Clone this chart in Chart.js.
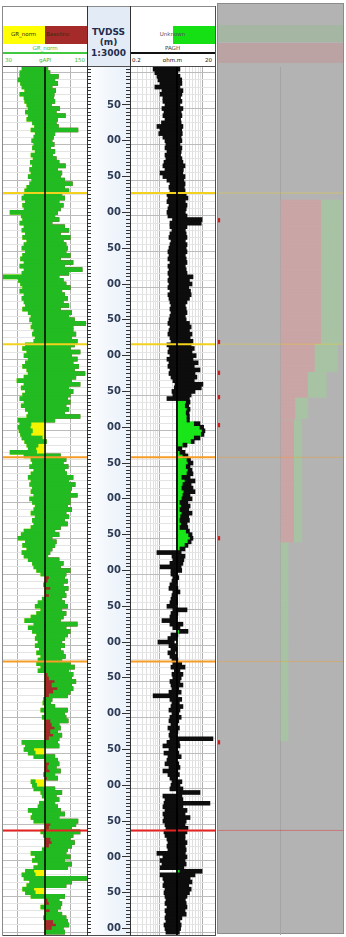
<!DOCTYPE html>
<html>
<head>
<meta charset="utf-8">
<script src="https://cdn.jsdelivr.net/npm/chart.js@4.4.0/dist/chart.umd.min.js"></script>
<style>
  html, body { margin: 0; padding: 0; background: #ffffff; }
  #page { position: relative; width: 346px; height: 937px; overflow: hidden; font-family: "DejaVu Sans", Verdana, sans-serif; }
  .abs { position: absolute; }
  .sm { position: absolute; font-size: 5.5px; line-height: 7px; white-space: nowrap; }
  .hd { position: absolute; font-weight: bold; font-size: 9px; line-height: 10px; color: #1f2d4c; text-align: center; width: 43px; left: 87px; }
  .ln { position: absolute; background: #4d4d4d; z-index: 5; }
  canvas { display: block; }
</style>
</head>
<body>
<div id="page">
  <!-- grey results panel -->
  <div class="abs" style="left:217px;top:3px;width:127px;height:931px;background:#b3b3b3;box-sizing:border-box;border:1px solid #8c8c8c;"></div>
  <div class="abs" style="left:218px;top:25px;width:125px;height:17px;background:rgba(120,200,110,0.22);"></div>
  <div class="abs" style="left:218px;top:43px;width:125px;height:20px;background:rgba(225,110,110,0.22);"></div>
  <div class="abs" style="left:218px;top:67px;width:125px;height:868px;"><canvas id="panelChart" width="125" height="868"></canvas></div>

  <!-- GR track header -->
  <div class="abs" style="left:3px;top:26px;width:42px;height:18px;background:#ffff00;"></div>
  <div class="abs" style="left:45px;top:26px;width:42px;height:18px;background:#a52a2a;"></div>
  <div class="sm" style="left:11px;top:31px;color:#3a2c0c;">GR_norm</div>
  <div class="sm" style="left:46px;top:31px;color:#3a2c0c;">Baseline</div>
  <div class="sm" style="left:3px;top:45px;width:84px;text-align:center;color:#3cc43c;">GR_norm</div>
  <div class="abs" style="left:3px;top:52px;width:84px;height:2px;background:#40c840;"></div>
  <div class="sm" style="left:5px;top:57px;color:#3cb83c;">30</div>
  <div class="sm" style="left:3px;top:57px;width:84px;text-align:center;color:#3cb83c;">gAPI</div>
  <div class="sm" style="left:3px;top:57px;width:82px;text-align:right;color:#3cb83c;">150</div>

  <!-- depth track header -->
  <div class="abs" style="left:87px;top:6px;width:43px;height:60px;background:#e3ebf6;"></div>
  <div class="abs" style="left:87px;top:67px;width:43px;height:868px;background:linear-gradient(to right,#ffffff 0%,#f3f7fc 45%,#eaf1fa 100%);"></div>
  <div class="hd" style="top:27px;">TVDSS</div>
  <div class="hd" style="top:37px;">(m)</div>
  <div class="hd" style="top:48px;">1:3000</div>

  <!-- resistivity track header -->
  <div class="abs" style="left:173px;top:26px;width:42px;height:18px;background:#14e014;"></div>
  <div class="sm" style="left:130px;top:31px;width:85px;text-align:center;color:#50505a;">Unknown</div>
  <div class="sm" style="left:130px;top:45px;width:85px;text-align:center;color:#40404a;">PAGH</div>
  <div class="abs" style="left:130px;top:52px;width:85px;height:2px;background:#111111;"></div>
  <div class="sm" style="left:132px;top:57px;color:#111;">0.2</div>
  <div class="sm" style="left:130px;top:57px;width:85px;text-align:center;color:#111;">ohm.m</div>
  <div class="sm" style="left:130px;top:57px;width:82px;text-align:right;color:#111;">20</div>

  <!-- track canvases -->
  <div class="abs" style="left:3px;top:67px;width:84px;height:868px;"><canvas id="grChart" width="84" height="868"></canvas></div>
  <div class="abs" style="left:87px;top:67px;width:43px;height:868px;"><canvas id="depthChart" width="43" height="868"></canvas></div>
  <div class="abs" style="left:130px;top:67px;width:85px;height:868px;"><canvas id="resChart" width="85" height="868"></canvas></div>

  <!-- track frame -->
  <div class="ln" style="left:3px;top:6px;width:213px;height:1px;background:#8a8a8a;"></div>
  <div class="ln" style="left:3px;top:66px;width:213px;height:1px;"></div>
  <div class="ln" style="left:3px;top:935px;width:213px;height:1px;"></div>
  <div class="ln" style="left:2px;top:6px;width:1px;height:930px;background:#8a8a8a;"></div>
  <div class="ln" style="left:87px;top:6px;width:1px;height:930px;background:#333;"></div>
  <div class="ln" style="left:130px;top:6px;width:1px;height:930px;background:#333;"></div>
  <div class="ln" style="left:215px;top:6px;width:1px;height:930px;"></div>
</div>

<script>
// Depth window of the display (m TVDSS) and sampling of the log curves
const DEPTH_TOP = 997;
const DEPTH_BASE = 2209;
const SAMPLE_TOP = 1000;
const SAMPLE_STEP = 5;
const FIRST_LABEL = 1050;

// GR_norm (gAPI): lowest and highest reading inside each 5 m sample
const grLow = [
  57,54,54,51,55,57,61,54,60,61,
  64,66,62,66,64,72,75,70,76,74,
  71,74,72,76,70,73,69,72,68,70,
  66,71,68,64,61,60,57,62,58,60,
  40,56,58,54,60,57,62,58,64,60,
  57,62,58,55,60,54,60,57,30,52,
  55,58,54,60,57,60,62,58,66,70,
  68,72,70,74,72,76,74,62,58,64,
  60,66,62,58,64,66,60,50,60,56,
  62,58,54,60,56,62,66,64,51,54,
  51,53,55,57,61,64,66,40,60,70,
  72,68,74,70,66,70,68,72,70,74,
  68,72,76,74,70,76,72,74,70,60,
  56,51,62,58,64,57,60,66,72,74,
  78,84,96,94,88,98,92,96,86,80,
  76,84,78,70,61,74,66,72,78,76,
  80,76,82,78,84,80,78,84,80,94,
  96,104,100,108,102,96,88,87,90,84,
  92,86,98,100,104,98,102,96,57,62,
  60,66,74,92,96,94,97,88,93,70,
  72,74,84,86,90,82,80,66,72,70,
  74,98,96,84,88,98,100,96,86,70,
  76,72,80,74,62,57,60,68,64,58,
  62,70,94,96,84,97,92,88,102,106,
  100,90
];
const grHigh = [
  94,97,109,104,108,100,105,103,102,104,
  99,111,106,119,108,106,109,137,104,102,
  100,103,98,104,101,106,110,119,108,114,
  112,118,129,118,124,114,118,110,116,112,
  108,104,110,100,118,124,112,126,116,120,
  122,120,126,112,130,118,143,124,110,116,
  120,126,114,118,122,116,124,112,128,124,
  132,148,130,130,134,128,136,132,126,140,
  128,136,130,138,132,147,134,128,140,124,
  130,126,122,126,120,124,118,140,104,70,
  69,72,70,86,92,80,77,78,112,120,
  116,123,118,121,130,124,133,128,126,136,
  126,126,122,128,120,124,118,122,112,104,
  110,100,106,104,100,97,94,110,116,112,
  126,120,118,122,116,123,118,120,114,118,
  122,114,120,116,112,136,120,126,122,118,
  114,118,112,116,119,114,126,132,124,130,
  128,134,128,130,126,122,100,98,104,122,
  118,120,123,110,112,108,114,110,108,110,
  74,76,104,108,110,106,112,104,108,76,
  78,104,114,106,110,104,108,112,118,110,
  137,134,128,140,130,126,132,128,122,120,
  126,118,128,122,74,76,150,128,120,74,
  76,118,110,114,112,108,114,120,122,124,
  116,118
];
const grBaseline = 90;
const grGridValues = [51, 126];

// Resistivity (ohm.m): lowest and highest reading inside each 5 m sample
const resLow = [
  0.70,0.77,0.86,0.91,1.02,0.77,1.13,1.02,1.19,1.19,
  1.33,1.13,1.26,1.19,1.33,1.10,0.86,1.02,0.95,1.19,
  1.33,1.40,1.33,1.48,1.33,1.40,1.26,1.19,1.33,1.02,
  1.19,1.48,1.74,1.65,1.74,1.48,1.56,1.48,1.65,1.56,
  1.48,1.56,2.00,1.74,1.74,1.94,1.74,1.65,1.84,1.74,
  1.65,1.56,1.65,1.56,1.74,1.56,1.65,1.56,1.65,1.56,
  1.65,1.56,1.74,1.56,1.65,1.74,1.84,1.74,1.84,1.74,
  1.65,1.56,1.74,1.65,1.56,1.74,1.84,1.48,1.65,1.56,
  1.74,1.48,1.65,1.56,1.74,1.65,1.84,2.04,2.29,2.20,
  1.94,2.04,1.48,4.20,4.00,4.39,4.20,4.39,4.39,6.50,
  8.87,10.0,9.50,6.50,5.50,3.52,2.68,2.99,3.52,4.39,
  4.63,4.20,4.63,4.39,3.33,3.94,3.52,3.33,3.70,3.52,
  3.33,2.99,3.20,3.00,3.33,3.10,2.99,3.20,3.00,4.20,
  4.80,5.20,4.63,3.94,3.00,0.86,1.94,2.04,1.74,1.02,
  1.84,1.84,2.04,1.94,1.74,1.65,2.04,1.94,1.84,1.74,
  1.48,2.04,1.84,1.74,1.13,1.74,2.04,2.90,1.84,1.56,
  0.91,1.65,1.84,1.56,1.74,1.94,2.04,1.84,2.20,1.94,
  2.04,1.74,1.84,1.94,1.65,0.70,1.74,1.94,1.84,1.65,
  1.94,1.74,1.65,1.84,1.56,1.74,1.65,1.74,1.48,1.19,
  1.65,1.26,1.56,1.48,1.33,1.65,1.19,1.56,1.74,1.94,
  1.84,1.74,2.60,1.19,1.33,1.26,1.19,1.33,1.19,1.26,
  1.19,1.33,1.40,1.26,1.33,1.48,1.56,1.48,1.56,0.86,
  1.19,1.02,1.13,1.02,3.00,1.02,1.19,1.26,1.19,1.33,
  1.26,1.33,1.40,1.33,1.48,1.33,1.40,1.33,1.40,1.26,
  1.33,1.40
];
const resHigh = [
  2.99,2.68,3.00,3.30,3.33,3.00,3.52,3.33,3.10,3.33,
  3.00,3.52,3.20,3.33,3.10,3.20,3.52,3.30,3.40,3.20,
  3.33,3.00,3.33,3.20,3.10,3.33,3.52,3.94,3.60,3.50,
  3.94,3.70,3.94,3.80,3.94,4.20,4.63,4.00,4.40,4.20,
  4.00,4.40,9.90,9.50,4.39,4.00,4.20,4.39,4.00,4.40,
  4.20,4.39,4.00,4.20,4.39,4.00,4.20,4.39,6.07,5.00,
  5.76,4.80,5.30,5.50,5.00,4.39,4.00,4.20,4.39,4.00,
  4.20,5.00,5.50,5.00,5.76,5.20,6.07,5.50,6.50,5.76,
  7.20,6.07,8.00,6.50,8.87,6.77,7.50,6.50,10.4,9.50,
  6.77,5.50,5.00,5.17,4.80,5.17,4.90,5.00,5.00,8.87,
  10.8,11.6,11.0,8.87,6.50,4.39,3.33,3.94,4.63,5.30,
  6.07,5.17,5.76,6.07,5.20,6.77,5.50,6.07,6.77,5.17,
  5.76,4.60,5.20,4.80,5.76,4.80,5.00,4.40,4.60,5.00,
  5.76,6.07,5.50,4.63,3.94,3.20,3.94,3.70,3.52,3.20,
  3.30,2.60,2.80,2.50,2.40,2.68,3.00,2.55,2.60,2.60,
  2.40,4.39,2.68,2.60,2.55,3.52,3.00,4.63,2.68,2.55,
  2.20,2.40,2.55,2.29,2.55,2.68,3.30,3.94,3.00,3.52,
  3.20,3.00,3.52,2.80,3.20,2.68,3.30,2.90,3.52,3.00,
  2.80,3.20,2.80,2.60,2.90,2.68,2.55,17.9,2.90,3.00,
  2.60,2.80,3.20,2.55,2.80,3.00,2.68,2.90,2.60,3.33,
  3.00,3.52,8.87,3.33,3.52,15.2,3.52,4.39,3.94,5.17,
  4.20,3.94,4.63,4.39,3.94,3.94,4.39,4.00,4.20,4.00,
  4.39,3.94,4.20,3.70,9.90,6.77,5.20,5.76,4.80,5.50,
  5.00,4.39,4.00,4.20,4.39,3.94,4.20,3.33,3.00,3.20,
  3.10,2.90
];
const resCutoff = 2.55;
const resGridValues = [0.3,0.4,0.5,0.6,0.7,0.8,0.9,1,2,3,4,5,6,7,8,9,10];

// Formation tops (m TVDSS) and their colours
const topDepths = [1173, 1384, 1542, 1827, 2063];
const topColors = ['#f2d21c', '#f2d21c', '#f59d26', '#f59d26', '#e62222'];

// Summary panel: zones with stacked red / green widths
const zoneTop   = [1183, 1382, 1423, 1458, 1490, 1658];
const zoneBase  = [1382, 1423, 1458, 1490, 1658, 1940];
const zoneRed   = [0.64, 0.54, 0.43, 0.23, 0.21, 0.00];
const zoneGreen = [0.34, 0.37, 0.30, 0.20, 0.13, 0.12];
const markerDepths = [1211, 1381, 1424, 1458, 1497, 1655, 1940];

// ---------------------------------------------------------------------------
const sampleDepths = grLow.map((_, i) => SAMPLE_TOP + i * SAMPLE_STEP);

const baseOptions = {
  indexAxis: 'y',
  responsive: false,
  devicePixelRatio: 1,
  animation: false,
  events: [],
  layout: { padding: 0, autoPadding: false },
  plugins: { legend: { display: false }, tooltip: { enabled: false } }
};

// no label padding is allowed to push the plot area away from the canvas edges
function noPad(s) { s.paddingTop = 0; s.paddingBottom = 0; s.paddingLeft = 0; s.paddingRight = 0; }

function depthAxis(showGrid) {
  return {
    type: 'linear', min: DEPTH_TOP, max: DEPTH_BASE, reverse: true, offset: false,
    ticks: { display: false, stepSize: 10, includeBounds: false },
    border: { display: false },
    grid: {
      display: showGrid !== false,
      drawTicks: false,
      color: c => (c.tick && c.tick.value % 50 === 0) ? '#bcbcbc' : '#e4e4e4',
      lineWidth: 1
    },
    afterBuildTicks: s => { s.ticks = s.ticks.filter(t => t.value % 10 === 0); },
    afterFit: noPad
  };
}

function topLines(xMin, xMax, alpha) {
  return topDepths.map((d, i) => ({
    type: 'line',
    data: [{ x: xMin, y: d }, { x: xMax, y: d }],
    borderColor: alpha ? topColors[i] + alpha : topColors[i],
    borderWidth: alpha ? 1 : 2,
    pointRadius: 0,
    order: 0
  }));
}

// GR track
new Chart(document.getElementById('grChart'), {
  type: 'bar',
  data: {
    datasets: [
      { type: 'line', data: [{ x: grBaseline, y: DEPTH_TOP }, { x: grBaseline, y: DEPTH_BASE }],
        borderColor: '#000000', borderWidth: 1.5, pointRadius: 0, order: 0 },
      ...topLines(30, 150),
      { label: 'GR_norm', data: sampleDepths.map((d, i) => ({ y: d, x: [grLow[i], grHigh[i]] })),
        backgroundColor: '#22bb22', barThickness: 4, grouped: false, order: 2 },
      { label: 'GR_norm < Baseline',
        data: sampleDepths.map((d, i) => ({ y: d, x: [Math.min(grLow[i], grBaseline), grBaseline] })),
        backgroundColor: '#f4f400', barThickness: 4, grouped: false, order: 3 },
      { label: 'GR_norm > Baseline',
        data: sampleDepths.map((d, i) => ({ y: d, x: [grBaseline, Math.max(grHigh[i], grBaseline)] })),
        backgroundColor: '#a52a2a', barThickness: 4, grouped: false, order: 3 }
    ]
  },
  options: {
    ...baseOptions,
    scales: {
      x: {
        type: 'linear', min: 30, max: 150,
        ticks: { display: false }, border: { display: false },
        grid: { drawTicks: false, color: '#b4b4b4' },
        afterBuildTicks: s => { s.ticks = grGridValues.map(v => ({ value: v })); },
        afterFit: noPad
      },
      y: depthAxis()
    }
  }
});

// Resistivity track
new Chart(document.getElementById('resChart'), {
  type: 'bar',
  data: {
    datasets: [
      { type: 'line', data: [{ x: resCutoff, y: DEPTH_TOP }, { x: resCutoff, y: DEPTH_BASE }],
        borderColor: '#000000', borderWidth: 1, pointRadius: 0, order: 0 },
      ...topLines(0.2, 20),
      { label: 'Resistivity', data: sampleDepths.map((d, i) => ({ y: d, x: [resLow[i], resHigh[i]] })),
        backgroundColor: '#0d0d0d', barThickness: 4, grouped: false, order: 2 },
      { label: 'Unknown',
        data: sampleDepths.map((d, i) => ({ y: d, x: [resCutoff, Math.max(resLow[i], resCutoff)] })),
        backgroundColor: '#19e619', barThickness: 4, grouped: false, order: 3 }
    ]
  },
  options: {
    ...baseOptions,
    scales: {
      x: {
        type: 'logarithmic', min: 0.2, max: 20,
        ticks: { display: false }, border: { display: false },
        grid: { drawTicks: false, color: c => (c.tick && (c.tick.value === 1 || c.tick.value === 10)) ? '#b0b0b0' : '#e0e0e0' },
        afterBuildTicks: s => { s.ticks = resGridValues.map(v => ({ value: v })); },
        afterFit: noPad
      },
      y: depthAxis()
    }
  }
});

// Depth ruler
new Chart(document.getElementById('depthChart'), {
  type: 'scatter',
  data: { datasets: [] },
  options: {
    ...baseOptions,
    indexAxis: 'x',
    scales: {
      x: { type: 'linear', display: false, min: 0, max: 1 },
      yRuler: {
        axis: 'y', position: 'left', weight: 2,
        type: 'linear', min: DEPTH_TOP, max: DEPTH_BASE, reverse: true,
        ticks: { display: false, stepSize: 5, includeBounds: false },
        border: { display: false },
        grid: { drawOnChartArea: false, drawTicks: true, tickLength: 4, color: '#333333' },
        afterBuildTicks: s => { s.ticks = s.ticks.filter(t => t.value % 5 === 0); },
        afterFit: noPad
      },
      yLabels: {
        axis: 'y', position: 'left', weight: 1,
        type: 'linear', min: DEPTH_TOP, max: DEPTH_BASE, reverse: true,
        ticks: {
          stepSize: 50, padding: 1, color: '#2c3a56', includeBounds: false, autoSkip: false,
          font: { family: 'DejaVu Sans', size: 10, weight: 'bold' },
          callback: v => String(Math.round(v) % 100).padStart(2, '0')
        },
        border: { display: false },
        grid: { drawOnChartArea: false, drawTicks: true, tickLength: 4, color: '#333333' },
        afterBuildTicks: s => { s.ticks = s.ticks.filter(t => t.value % 50 === 0 && t.value >= FIRST_LABEL); },
        afterFit: s => { s.width = 35; noPad(s); }
      },
      yEdge: {
        axis: 'y', position: 'right',
        type: 'linear', min: DEPTH_TOP, max: DEPTH_BASE, reverse: true,
        ticks: { display: false, stepSize: 5, includeBounds: false },
        border: { display: false },
        grid: { drawTicks: false, color: '#333333' },
        afterBuildTicks: s => { s.ticks = s.ticks.filter(t => t.value % 5 === 0); },
        afterFit: noPad
      }
    }
  }
});

// Summary panel
const zoneBins = [];
zoneTop.forEach((top, z) => {
  for (let d = top + SAMPLE_STEP / 2; d < zoneBase[z]; d += SAMPLE_STEP) zoneBins.push({ d, z });
});
new Chart(document.getElementById('panelChart'), {
  type: 'bar',
  data: {
    datasets: [
      { type: 'scatter', data: markerDepths.map(d => ({ x: -1, y: d })),
        pointStyle: 'rect', pointRadius: 3, backgroundColor: '#c42020', borderWidth: 0, clip: false, order: 0 },
      ...topLines(-1, 1, '66'),
      { label: 'red', data: zoneBins.filter(b => zoneRed[b.z] > 0).map(b => ({ y: b.d, x: [0, zoneRed[b.z]] })),
        backgroundColor: '#c9a5a5', barThickness: 4, grouped: false, order: 2 },
      { label: 'green', data: zoneBins.map(b => ({ y: b.d, x: [zoneRed[b.z], zoneRed[b.z] + zoneGreen[b.z]] })),
        backgroundColor: '#a8c3a3', barThickness: 4, grouped: false, order: 2 }
    ]
  },
  options: {
    ...baseOptions,
    scales: {
      x: {
        type: 'linear', min: -1, max: 1,
        ticks: { display: false }, border: { display: false },
        grid: { drawTicks: false, color: '#a4a4a4' },
        afterBuildTicks: s => { s.ticks = [{ value: 0 }]; },
        afterFit: noPad
      },
      y: depthAxis(false)
    }
  }
});
</script>
</body>
</html>
